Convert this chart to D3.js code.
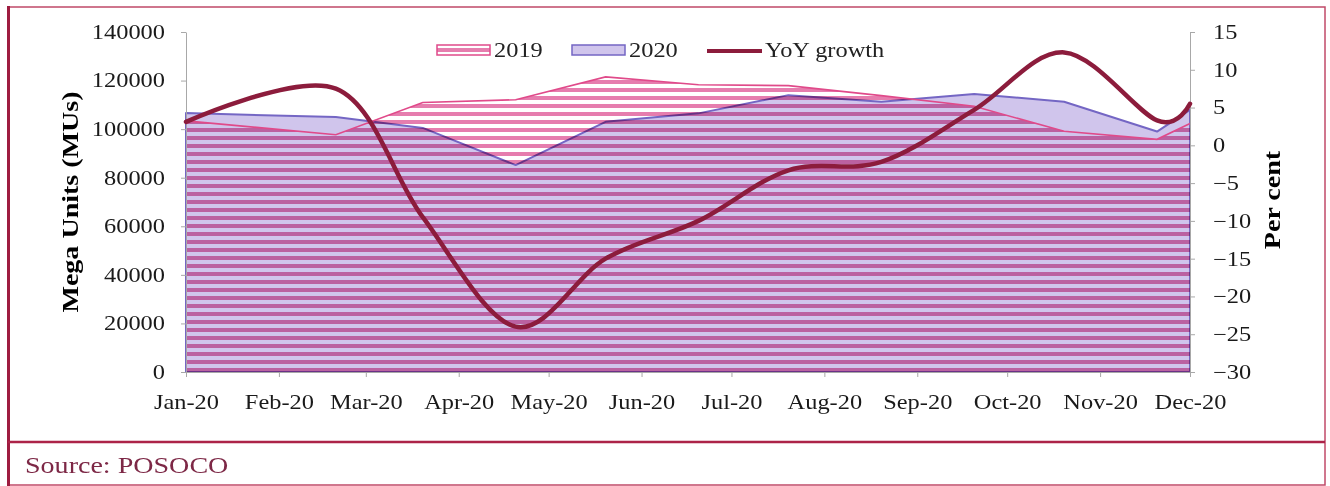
<!DOCTYPE html>
<html>
<head>
<meta charset="utf-8">
<script src="https://cdn.jsdelivr.net/npm/d3@7"></script>
<style>
  body { margin: 0; background: #fff; }
  svg { display: block; font-family: "Liberation Serif", "Times New Roman", serif; }
</style>
</head>
<body>
<svg id="chart" width="1330" height="486"></svg>
<script>
// monthly energy met (MU) and yoy change
const pointDates = ["2020-01-01", "2020-02-20", "2020-03-20", "2020-04-20", "2020-05-20", "2020-06-20",
                    "2020-07-20", "2020-08-20", "2020-09-20", "2020-10-20", "2020-11-20", "2020-12-01"]
const energy2019 = [103400, 97700, 111000, 112100, 121500, 118300, 117900, 113800, 109400, 99100, 95800, 102300]
const energy2020 = [106600, 105000, 100500, 85200, 103000, 106500, 114000, 111300, 114500, 111300, 99000, 107900]
const yoyGrowth = [3.1, 7.5, -9.5, -24, -15, -10, -3.3, -2.2, 4.7, 12.3, 3.3, 5.5]

const leftTicks = [0, 20000, 40000, 60000, 80000, 100000, 120000, 140000]
const rightTicks = [-30, -25, -20, -15, -10, -5, 0, 5, 10, 15]
const legendNames = ["2019", "2020", "YoY growth"]

const plot = { left: 186, right: 1190, top: 32, bottom: 372 }
const sx = 1.22 // text in this chart runs wide
const grey = "#a8a8a8"

const parse = d3.timeParse("%Y-%m-%d")
const rows = pointDates.map((d, i) => ({
  date: parse(d), y19: energy2019[i], y20: energy2020[i], yoy: yoyGrowth[i]
}))

const svg = d3.select("#chart")

const x = d3.scaleTime()
  .domain([parse("2020-01-01"), parse("2020-12-01")])
  .range([plot.left, plot.right])
const yL = d3.scaleLinear().domain([0, 140000]).range([plot.bottom, plot.top])
const yR = d3.scaleLinear().domain([-30, 15]).range([plot.bottom, plot.top])

// horizontal stripe fill for 2019
const defs = svg.append("defs")
const pat = defs.append("pattern")
  .attr("id", "stripes")
  .attr("patternUnits", "userSpaceOnUse")
  .attr("width", 8).attr("height", 8)
pat.append("rect").attr("width", 8).attr("height", 4).attr("fill", "#e67dae")

// frame
svg.append("rect")
  .attr("x", 8).attr("y", 7).attr("width", 1317).attr("height", 478)
  .attr("fill", "none").attr("stroke", "#c04a68").attr("stroke-width", 1.5)
svg.append("line")
  .attr("x1", 8.5).attr("x2", 8.5).attr("y1", 6).attr("y2", 486)
  .attr("stroke", "#9e1c40").attr("stroke-width", 3)
svg.append("line")
  .attr("x1", 8).attr("x2", 1325).attr("y1", 442).attr("y2", 442)
  .attr("stroke", "#ac2348").attr("stroke-width", 2.5)

svg.append("text")
  .attr("transform", "translate(25,473) scale(" + sx + ",1)")
  .attr("font-size", 23).attr("fill", "#7d2846")
  .text("Source: POSOCO")

// areas
const area19 = d3.area().x(d => x(d.date)).y0(plot.bottom).y1(d => yL(d.y19))
const area20 = d3.area().x(d => x(d.date)).y0(plot.bottom).y1(d => yL(d.y20))
const top19 = d3.line().x(d => x(d.date)).y(d => yL(d.y19))

svg.append("path").datum(rows)
  .attr("d", area20).attr("fill", "#d0c5ec")
svg.append("path").datum(rows)
  .attr("d", area20).attr("fill", "none")
  .attr("stroke", "#7466c4").attr("stroke-width", 2).attr("stroke-linejoin", "round")
svg.append("path").datum(rows)
  .attr("d", area19).attr("fill", "url(#stripes)")
  .style("mix-blend-mode", "multiply")
svg.append("path").datum(rows)
  .attr("d", top19).attr("fill", "none")
  .attr("stroke", "#e04a8a").attr("stroke-width", 1.6)

// axes
const gL = svg.append("g")
  .attr("transform", "translate(" + plot.left + ",0)")
  .call(d3.axisLeft(yL).tickValues(leftTicks).tickSize(5).tickSizeOuter(0).tickFormat(d3.format("d")))
gL.selectAll("text").attr("x", null)
  .attr("transform", "translate(-21,0) scale(" + sx + ",1)")

const gR = svg.append("g")
  .attr("transform", "translate(" + plot.right + ",0)")
  .call(d3.axisRight(yR).tickValues(rightTicks).tickSize(5).tickSizeOuter(0))
gR.selectAll("text").attr("x", null)
  .attr("transform", "translate(23,0) scale(" + sx + ",1)")

const gB = svg.append("g")
  .attr("transform", "translate(0," + plot.bottom + ")")
  .call(d3.axisBottom(x).ticks(d3.timeMonth.every(1)).tickSize(5).tickSizeOuter(0)
    .tickFormat(d3.timeFormat("%b-%y")))
gB.selectAll("text").attr("y", null).attr("dy", null)
  .attr("transform", "translate(0,37) scale(" + sx + ",1)")

svg.selectAll(".domain, .tick line").attr("stroke", grey)
svg.selectAll(".tick text").attr("font-size", 20).attr("fill", "#1a1a1a")
  .attr("font-family", "Liberation Serif, Times New Roman, serif")

// axis titles
svg.append("text")
  .attr("transform", "translate(78,202) rotate(-90) scale(" + sx + ",1)")
  .attr("text-anchor", "middle").attr("font-size", 23).attr("font-weight", "bold")
  .text("Mega Units (MUs)")
svg.append("text")
  .attr("transform", "translate(1280,200) rotate(-90) scale(" + sx + ",1)")
  .attr("text-anchor", "middle").attr("font-size", 23).attr("font-weight", "bold")
  .text("Per cent")

// yoy growth line
svg.append("path").datum(rows)
  .attr("d", d3.line().x(d => x(d.date)).y(d => yR(d.yoy)).curve(d3.curveCardinal.tension(0)))
  .attr("fill", "none").attr("stroke", "#8c1c3c").attr("stroke-width", 4.5)
  .attr("stroke-linecap", "round")

// legend
const legendX = [437, 572, 707]
const lg = svg.append("g")
lg.append("rect").attr("x", legendX[0]).attr("y", 45).attr("width", 53).attr("height", 10)
  .attr("fill", "url(#stripes)").attr("stroke", "#e04a8a").attr("stroke-width", 1.5)
lg.append("rect").attr("x", legendX[1]).attr("y", 45).attr("width", 53).attr("height", 10)
  .attr("fill", "#d0c5ec").attr("stroke", "#7466c4").attr("stroke-width", 1.5)
lg.append("line").attr("x1", legendX[2]).attr("x2", legendX[2] + 55).attr("y1", 51).attr("y2", 51)
  .attr("stroke", "#8c1c3c").attr("stroke-width", 4)
lg.selectAll("text.lab").data(legendNames).join("text")
  .attr("class", "lab")
  .attr("transform", (d, i) => "translate(" + (legendX[i] + (i === 2 ? 58 : 57)) + ",57) scale(" + sx + ",1)")
  .attr("font-size", 20).attr("fill", "#222")
  .text(d => d)
</script>
</body>
</html>
